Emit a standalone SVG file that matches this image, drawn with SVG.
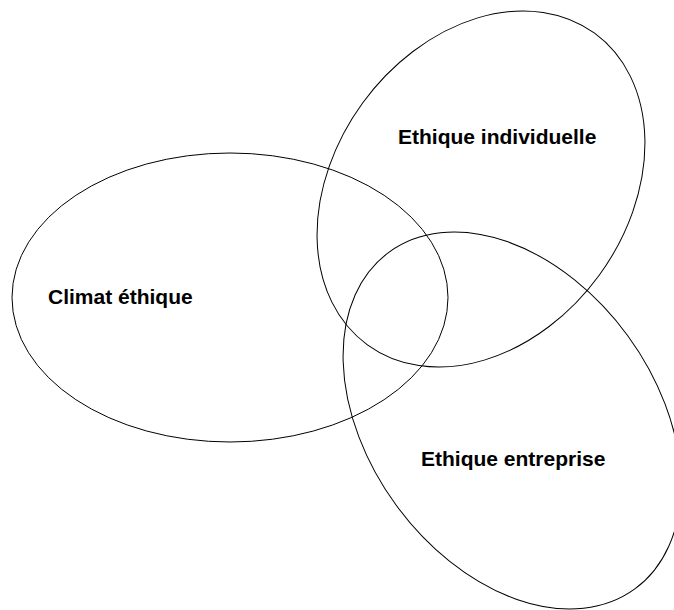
<svg xmlns="http://www.w3.org/2000/svg" width="674" height="610" viewBox="0 0 674 610">
<style>
.e{fill:none;stroke:#000;stroke-width:1}
.t{font-family:"Liberation Sans",Arial,sans-serif;font-weight:bold;font-size:21px;fill:#000}
</style>
<rect width="674" height="610" fill="#fff"/>
<g id="climat">
<ellipse class="e" cx="230" cy="297.5" rx="218" ry="144.5"/>
<text class="t" x="48" y="304">Climat éthique</text>
</g>
<g id="individuelle">
<ellipse class="e" cx="481" cy="189" rx="192.8" ry="146.3" transform="rotate(-53.9 481 189)"/>
<text class="t" x="398" y="144">Ethique individuelle</text>
</g>
<g id="entreprise">
<ellipse class="e" cx="512" cy="420.5" rx="208.5" ry="143.5" transform="rotate(53.9 512 420.5)"/>
<text class="t" x="421" y="466">Ethique entreprise</text>
</g>
</svg>
